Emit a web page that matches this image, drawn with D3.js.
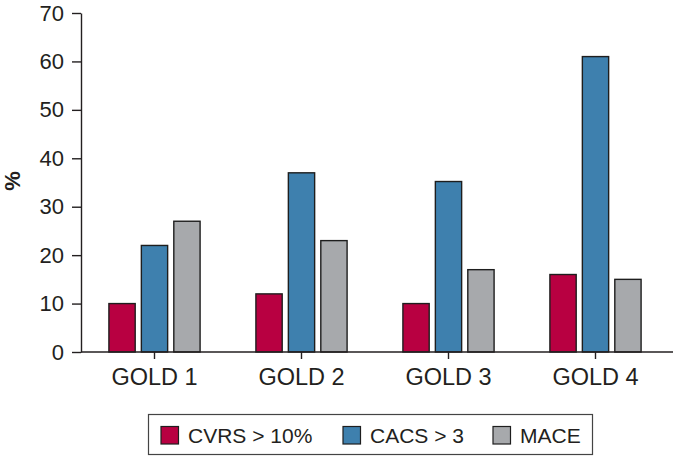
<!DOCTYPE html>
<html>
<head>
<meta charset="utf-8">
<script src="https://cdn.jsdelivr.net/npm/d3@7"></script>
<style>
  body { margin: 0; background: #fff; }
  svg { display: block; font-family: "Liberation Sans", Arial, sans-serif; }
</style>
</head>
<body>
<svg width="673" height="456"></svg>
<script>

var groups = ["GOLD 1", "GOLD 2", "GOLD 3", "GOLD 4"],
  seriesNames = ["CVRS > 10%", "CACS > 3", "MACE"],
  seriesColors = ["#b80041", "#3e80ae", "#a7a9ac"],
  cvrs = [10, 12, 10, 16],
  cacs = [22, 37, 35.2, 61],
  mace = [27, 23, 17, 15],
  yTicks = [0, 10, 20, 30, 40, 50, 60, 70]

var series = [cvrs, cacs, mace]

var svg = d3.select("svg"),
  width = +svg.attr("width"),
  height = +svg.attr("height"),
  ink = "#231f20"

var x = d3.scaleBand().domain(groups).range([81, 669]).padding(0),
  xs = d3.scaleBand().domain(d3.range(seriesNames.length))
    .range([0, x.bandwidth()]).paddingInner(0.19).paddingOuter(0.86),
  y = d3.scaleLinear().domain([0, 70]).range([352, 13])

// bars
var g = svg.append("g")
groups.forEach(function(grp, gi) {
  series.forEach(function(vals, si) {
    g.append("rect")
      .attr("x", x(grp) + xs(si))
      .attr("y", y(vals[gi]))
      .attr("width", xs.bandwidth())
      .attr("height", y(0) - y(vals[gi]))
      .attr("fill", seriesColors[si])
      .attr("stroke", "#1e1e1e")
      .attr("stroke-width", 1.4)
  })
})

// y axis
var yAxis = svg.append("g").attr("transform", "translate(81,0)")
  .call(d3.axisLeft(y).tickValues(yTicks).tickSize(9).tickSizeOuter(0).tickPadding(8))
yAxis.select(".domain").attr("stroke", ink).attr("stroke-width", 1.4)
yAxis.selectAll(".tick line").attr("stroke", ink).attr("stroke-width", 1.4)
yAxis.selectAll("text").attr("fill", ink).style("font-size", "22px")

// x axis
var xAxis = svg.append("g").attr("transform", "translate(0,352)")
  .call(d3.axisBottom(x).tickSize(7).tickSizeOuter(0).tickPadding(9))
xAxis.select(".domain").remove()
xAxis.append("line").attr("x1", 81).attr("x2", width)
  .attr("stroke", ink).attr("stroke-width", 1.4)
xAxis.selectAll(".tick line").attr("stroke", ink).attr("stroke-width", 1.4)
xAxis.selectAll("text").attr("fill", ink).style("font-size", "23.5px")

// y label
svg.append("text")
  .attr("transform", "translate(20,181) rotate(-90)")
  .attr("text-anchor", "middle")
  .attr("fill", ink)
  .style("font-size", "22px")
  .style("font-weight", "bold")
  .text("%")

// legend
var lg = svg.append("g")
lg.append("rect")
  .attr("x", 148.5).attr("y", 414.5).attr("width", 444).attr("height", 40)
  .attr("fill", "none").attr("stroke", "#444").attr("stroke-width", 1.2)

var legendX = [161, 343, 493]
seriesNames.forEach(function(name, i) {
  lg.append("rect")
    .attr("x", legendX[i]).attr("y", 426.5).attr("width", 17.5).attr("height", 17.5)
    .attr("fill", seriesColors[i]).attr("stroke", "#1e1e1e").attr("stroke-width", 1.2)
  lg.append("text")
    .attr("x", legendX[i] + 27).attr("y", 442.5)
    .attr("fill", ink)
    .style("font-size", "21px")
    .text(name)
})

</script>
</body>
</html>
